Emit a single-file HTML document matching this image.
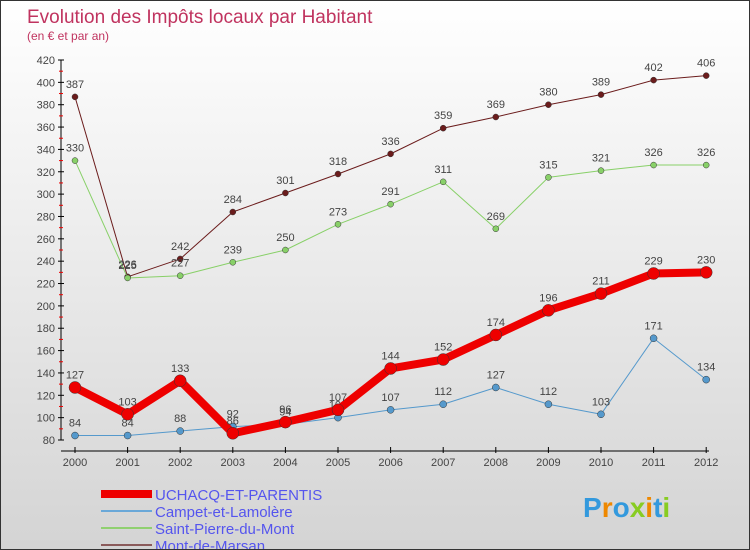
<!DOCTYPE html>
<html><head><meta charset="utf-8"><style>
body{margin:0}
#c{width:748px;height:548px;border:1px solid #333;background:linear-gradient(#fff,#d4d4d4);position:relative;font-family:"Liberation Sans",sans-serif;overflow:hidden}
</style></head><body>
<div id="c">
<svg id="s" width="748" height="548" xmlns="http://www.w3.org/2000/svg">
<text x="26" y="22" font-size="19" fill="#c0335f">Evolution des Impôts locaux par Habitant</text>
<text x="26" y="39" font-size="12" fill="#c0335f">(en € et par an)</text>
<g id="g"></g>
</svg>
</div>
<script>
const years=[2000,2001,2002,2003,2004,2005,2006,2007,2008,2009,2010,2011,2012];
const yTicks=[80,100,120,140,160,180,200,220,240,260,280,300,320,340,360,380,400,420];
const uchacq=[127,103,133,86,96,107,144,152,174,196,211,229,230];
const campet=[84,84,88,92,94,100,107,112,127,112,103,171,134];
const stpierre=[330,225,227,239,250,273,291,311,269,315,321,326,326];
const montde=[387,226,242,284,301,318,336,359,369,380,389,402,406];
const names=["UCHACQ-ET-PARENTIS","Campet-et-Lamolère","Saint-Pierre-du-Mont","Mont-de-Marsan"];
const NS="http://www.w3.org/2000/svg";
const g=document.getElementById('g');
const X=i=>74+i*52.6;
const Y=v=>439-(v-80)*(380/340);
function mk(t,a,p){const e=document.createElementNS(NS,t);for(const k in a)e.setAttribute(k,a[k]);(p||g).appendChild(e);return e;}
// axes
let ax=mk('line',{x1:60,y1:Y(420),x2:60,y2:Y(80),stroke:'#000','stroke-width':1});


let axx=mk('line',{x1:60,y1:450,x2:708,y2:450,stroke:'#000','stroke-width':1});


yTicks.forEach((v,i)=>{
  mk('line',{x1:57,y1:Y(v),x2:63,y2:Y(v),stroke:'#000'});
  if(i<yTicks.length-1)mk('line',{x1:58,y1:Y(v+10),x2:62,y2:Y(v+10),stroke:'#e00'});
  const t=mk('text',{x:54,y:Y(v)+4,'font-size':11,fill:'#444','text-anchor':'end'});t.textContent=v;
  
  
});
years.forEach((y,i)=>{
  mk('line',{x1:X(i),y1:446,x2:X(i),y2:452,stroke:'#000'});
  const t=mk('text',{x:X(i),y:465,'font-size':11,fill:'#444','text-anchor':'middle'});t.textContent=y;
  
  
});
function series(d,col,w,r,name){
  const p=mk('polyline',{points:d.map((v,i)=>X(i)+','+Y(v)).join(' '),fill:'none',stroke:col,'stroke-width':w,'stroke-linejoin':'round'});
  
  
  d.forEach((v,i)=>{
    const c=mk('circle',{cx:X(i),cy:Y(v),r:r,fill:col,stroke:'#333','stroke-width':0.5});
    
    
    const t=mk('text',{x:X(i),y:Y(v)-9,'font-size':11,fill:'#444','text-anchor':'middle'});t.textContent=v;
    
    
  });
}
series(montde,'#6b1c1c',1,3,'mont-de-marsan');
series(stpierre,'#88d068',1,3,'saint-pierre-du-mont');
series(campet,'#5599cc',1,3.5,'campet-et-lamolere');
series(uchacq,'#ee0000',8,6,'uchacq-et-parentis');
// legend
const lc=['#ee0000','#6aa8d8','#90d070','#8a5a5a'],lw=[8,2,2,2];
names.forEach((n,i)=>{
  const yy=493+i*17;
  const l=mk('line',{x1:100,y1:yy,x2:151,y2:yy,stroke:lc[i],'stroke-width':lw[i]});
  
  
  const t=mk('text',{x:154,y:yy+6,'font-size':15,fill:'#5555ee'});t.textContent=n;
  
  
});
const b=mk('text',{x:582,y:516,'font-size':28,'font-weight':'bold',fill:'#2e8fd0'});
b.innerHTML='<tspan fill="#3399dd">P</tspan><tspan fill="#ee8800">r</tspan><tspan fill="#3399dd">o</tspan><tspan fill="#88cc22">x</tspan><tspan fill="#ee8800">i</tspan><tspan fill="#3399dd">t</tspan><tspan fill="#88cc22">i</tspan>';


</script>
</body></html>
